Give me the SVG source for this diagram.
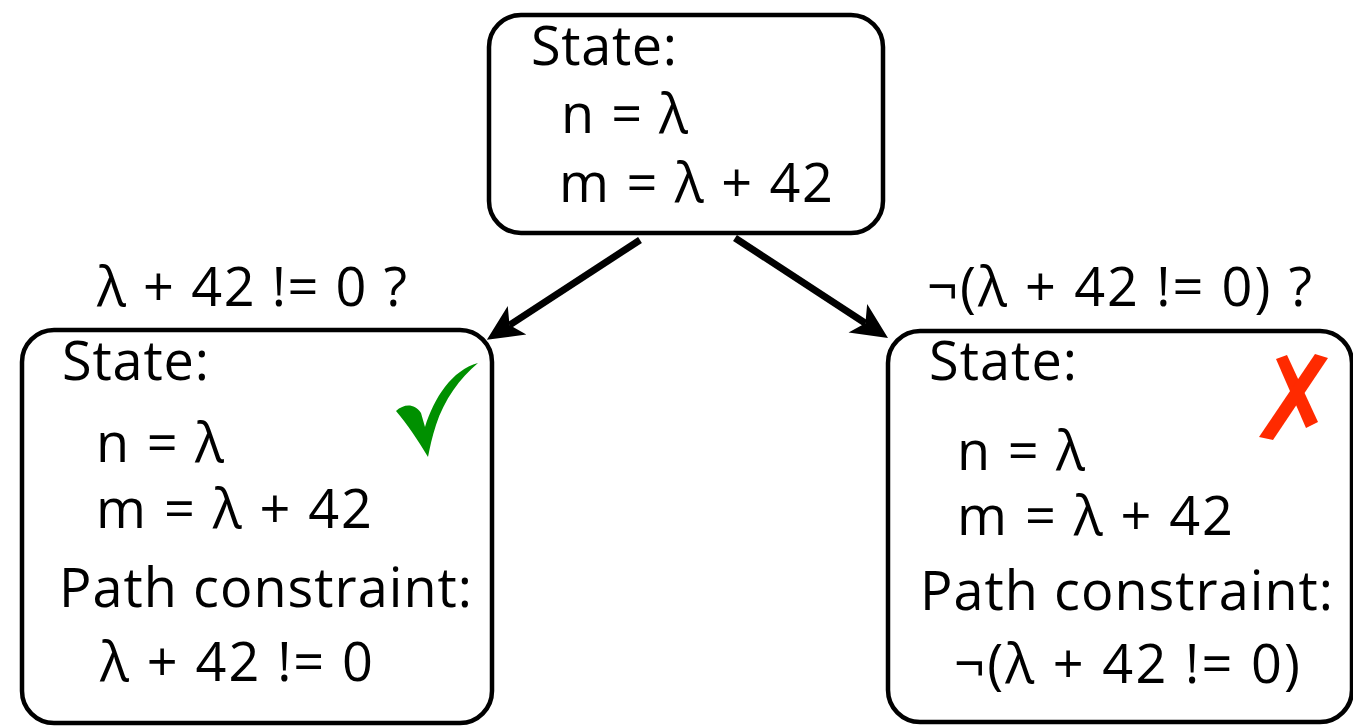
<svg xmlns="http://www.w3.org/2000/svg" width="1353" height="726" viewBox="0 0 1353 726">
  <style>
    .box { fill: #ffffff; stroke: #000000; stroke-width: 4.5; }
    .t { font-family: "Open Sans", "Noto Sans", sans-serif; font-size: 54px; fill: #000000; }
    .edge { stroke: #000000; stroke-width: 7; fill: none; }
  </style>
  <defs>
    <marker id="head" markerUnits="userSpaceOnUse" viewBox="0 -20 40 40" markerWidth="40" markerHeight="40" refX="9" refY="0" orient="auto" overflow="visible">
      <path d="M36,0 L0,-17 L9,0 L0,17 Z" fill="#000000"/>
    </marker>
  </defs>
  <rect width="1353" height="726" fill="#ffffff"/>

  <!-- root state -->
  <g id="root">
    <rect class="box" x="489" y="15" width="394" height="218" rx="32"/>
    <text class="t" x="531" y="65" textLength="146" lengthAdjust="spacing">State:</text>
    <text class="t" x="561" y="133" textLength="127" lengthAdjust="spacing">n = λ</text>
    <text class="t" x="559" y="202" textLength="274" lengthAdjust="spacing">m = λ + 42</text>
  </g>

  <!-- branches -->
  <g id="connectors">
    <line class="edge" x1="640" y1="240" x2="509.5" y2="325.1" marker-end="url(#head)"/>
    <line class="edge" x1="735" y1="238" x2="865.4" y2="323.2" marker-end="url(#head)"/>
    <text class="t" x="97" y="306" textLength="310" lengthAdjust="spacing">λ + 42 != 0 ?</text>
    <text class="t" x="927" y="306" textLength="385" lengthAdjust="spacing">¬(λ + 42 != 0) ?</text>
  </g>

  <!-- satisfiable branch -->
  <g id="left">
    <rect class="box" x="22" y="330" width="470" height="393" rx="32"/>
    <text class="t" x="62" y="380" textLength="147" lengthAdjust="spacing">State:</text>
    <text class="t" x="96" y="462" textLength="128" lengthAdjust="spacing">n = λ</text>
    <text class="t" x="96" y="528" textLength="276" lengthAdjust="spacing">m = λ + 42</text>
    <text class="t" x="59" y="607" textLength="413" lengthAdjust="spacing">Path constraint:</text>
    <text class="t" x="100" y="681" textLength="273" lengthAdjust="spacing">λ + 42 != 0</text>
    <path d="M396,411 C404,404 414,403 421,413 L425,427 C434,398 452,370 478,363 C460,378 444,400 436,425 C432,437 430,447 428,457 C418,440 407,424 396,411 Z" fill="#009000"/>
  </g>

  <!-- unsatisfiable branch -->
  <g id="right">
    <rect class="box" x="888" y="331" width="464" height="391" rx="32"/>
    <text class="t" x="929" y="380" textLength="148" lengthAdjust="spacing">State:</text>
    <text class="t" x="957" y="470" textLength="128" lengthAdjust="spacing">n = λ</text>
    <text class="t" x="957" y="535" textLength="276" lengthAdjust="spacing">m = λ + 42</text>
    <text class="t" x="920" y="610" textLength="413" lengthAdjust="spacing">Path constraint:</text>
    <text class="t" x="954" y="683" textLength="346" lengthAdjust="spacing">¬(λ + 42 != 0)</text>
    <path d="M1276,359 L1287,355 L1318,422 L1306,428 Z" fill="#ff2a00"/>
    <path d="M1315,354 L1328,358 L1273,440 L1259,437 Z" fill="#ff2a00"/>
  </g>
</svg>
